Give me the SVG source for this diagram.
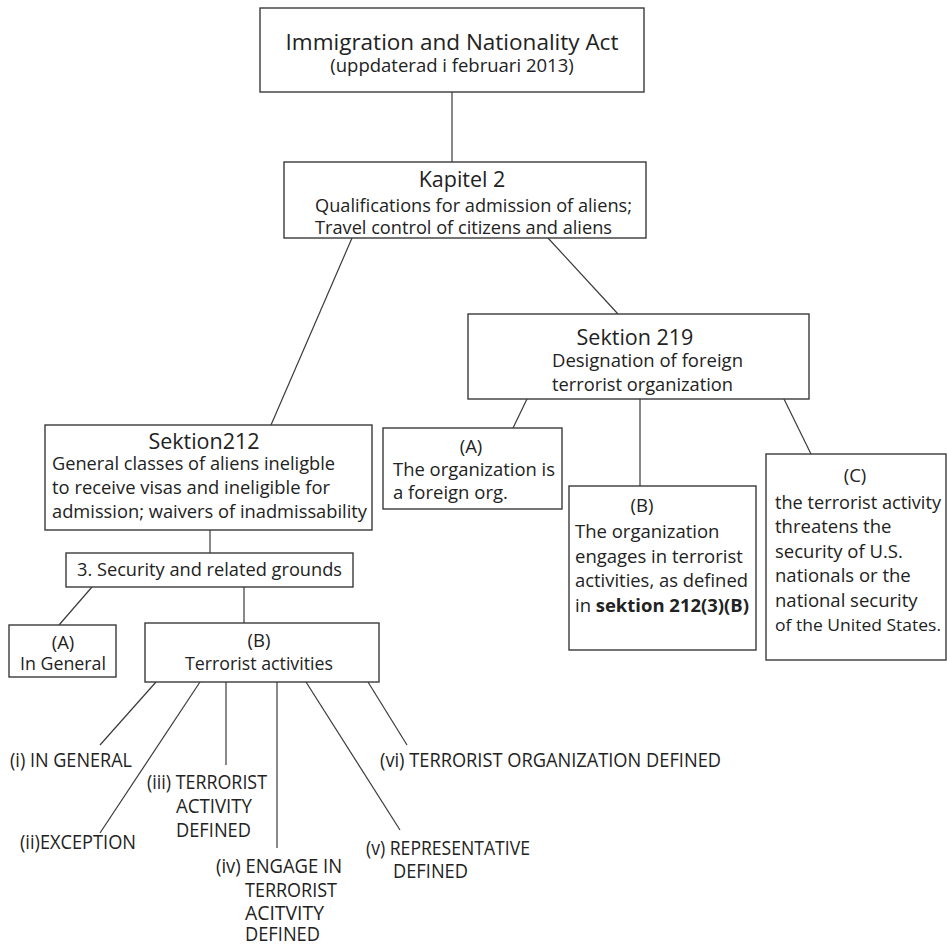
<svg xmlns="http://www.w3.org/2000/svg" width="947" height="947" viewBox="0 0 947 947">
<style>
.box{fill:#fff;stroke:#3a3a3a;stroke-width:1.4}
.ln{stroke:#3a3a3a;stroke-width:1.2;fill:none}
text{font-family:"Open Sans","Liberation Sans",sans-serif;fill:#222}
.t{font-size:18.5px}
.h{font-size:21.5px}
.c{text-anchor:middle}
.s{font-size:19.5px}
</style>
<rect width="947" height="947" fill="#fff"/>
<g id="connectors">
<line class="ln" x1="452" y1="92" x2="452" y2="162"/>
<line class="ln" x1="352" y1="238" x2="271" y2="425"/>
<line class="ln" x1="548" y1="238" x2="618" y2="314"/>
<line class="ln" x1="527" y1="399" x2="513" y2="428"/>
<line class="ln" x1="640" y1="399" x2="640" y2="486"/>
<line class="ln" x1="784" y1="399" x2="811" y2="454"/>
<line class="ln" x1="210" y1="530" x2="210" y2="553"/>
<line class="ln" x1="92" y1="587" x2="59" y2="625"/>
<line class="ln" x1="244" y1="587" x2="244" y2="623"/>
<line class="ln" x1="156" y1="682" x2="100" y2="745"/>
<line class="ln" x1="200" y1="682" x2="100" y2="833"/>
<line class="ln" x1="226" y1="682" x2="226" y2="765"/>
<line class="ln" x1="277" y1="682" x2="277" y2="848"/>
<line class="ln" x1="306" y1="682" x2="400" y2="830"/>
<line class="ln" x1="368" y1="682" x2="407" y2="745"/>
</g>
<g id="act">
<rect class="box" x="260" y="8" width="384" height="84"/>
<text class="c" x="452" y="50" font-size="22.5">Immigration and Nationality Act</text>
<text class="t c" x="452" y="72">(uppdaterad i februari 2013)</text>
</g>
<g id="kapitel2">
<rect class="box" x="284" y="162" width="362" height="76"/>
<text class="h c" x="462" y="187">Kapitel 2</text>
<text class="t" x="315" y="212" textLength="317" lengthAdjust="spacingAndGlyphs">Qualifications for admission of aliens;</text>
<text class="t" x="315" y="234" textLength="297" lengthAdjust="spacingAndGlyphs">Travel control of citizens and aliens</text>
</g>
<g id="sektion219">
<rect class="box" x="468" y="314" width="341" height="85"/>
<text class="h c" x="635" y="345">Sektion 219</text>
<text class="t" x="552" y="367" textLength="191" lengthAdjust="spacingAndGlyphs">Designation of foreign</text>
<text class="t" x="552" y="391" textLength="181" lengthAdjust="spacingAndGlyphs">terrorist organization</text>
</g>
<g id="s219a">
<rect class="box" x="383" y="428" width="179" height="81"/>
<text class="t c" x="471" y="453">(A)</text>
<text class="t" x="393" y="476" textLength="162" lengthAdjust="spacingAndGlyphs">The organization is</text>
<text class="t" x="393" y="499">a foreign org.</text>
</g>
<g id="s219b">
<rect class="box" x="569" y="486" width="187" height="164"/>
<text class="t c" x="642" y="512">(B)</text>
<text class="t" x="575" y="538">The organization</text>
<text class="t" x="575" y="563">engages in terrorist</text>
<text class="t" x="575" y="587" textLength="173" lengthAdjust="spacingAndGlyphs">activities, as defined</text>
<text class="t" x="575" y="612" textLength="174" lengthAdjust="spacingAndGlyphs">in <tspan font-weight="bold">sektion 212(3)(B)</tspan></text>
</g>
<g id="s219c">
<rect class="box" x="766" y="454" width="180" height="206"/>
<text class="t c" x="855" y="482">(C)</text>
<text class="t" x="775" y="509" textLength="166" lengthAdjust="spacingAndGlyphs">the terrorist activity</text>
<text class="t" x="775" y="533">threatens the</text>
<text class="t" x="775" y="558">security of U.S.</text>
<text class="t" x="775" y="582">nationals or the</text>
<text class="t" x="775" y="607">national security</text>
<text x="775" y="631" font-size="17" textLength="166" lengthAdjust="spacingAndGlyphs">of the United States.</text>
</g>
<g id="sektion212">
<rect class="box" x="45" y="425" width="327" height="105"/>
<text class="h c" x="204" y="449">Sektion212</text>
<text class="t" x="52" y="470" textLength="283" lengthAdjust="spacingAndGlyphs">General classes of aliens ineligble</text>
<text class="t" x="52" y="494" textLength="278" lengthAdjust="spacingAndGlyphs">to receive visas and ineligible for</text>
<text class="t" x="52" y="518" textLength="315" lengthAdjust="spacingAndGlyphs">admission; waivers of inadmissability</text>
</g>
<g id="security">
<rect class="box" x="66" y="553" width="287" height="34"/>
<text class="t" x="77" y="576" textLength="265" lengthAdjust="spacingAndGlyphs">3. Security and related grounds</text>
</g>
<g id="s212a">
<rect class="box" x="9" y="625" width="107" height="52"/>
<text class="t c" x="63" y="649">(A)</text>
<text class="t c" x="63" y="670" textLength="86" lengthAdjust="spacingAndGlyphs">In General</text>
</g>
<g id="s212b">
<rect class="box" x="145" y="623" width="234" height="59"/>
<text class="t c" x="259" y="647">(B)</text>
<text class="t c" x="259" y="670" textLength="148" lengthAdjust="spacingAndGlyphs">Terrorist activities</text>
</g>
<g id="labels">
<text class="s" x="10" y="767" textLength="122" lengthAdjust="spacingAndGlyphs">(i) IN GENERAL</text>
<text class="s" x="20" y="849" textLength="116" lengthAdjust="spacingAndGlyphs">(ii)EXCEPTION</text>
<text class="s" x="147" y="789" textLength="120" lengthAdjust="spacingAndGlyphs">(iii) TERRORIST</text>
<text class="s" x="176" y="813" textLength="76" lengthAdjust="spacingAndGlyphs">ACTIVITY</text>
<text class="s" x="176" y="837" textLength="75" lengthAdjust="spacingAndGlyphs">DEFINED</text>
<text class="s" x="216" y="873" textLength="126" lengthAdjust="spacingAndGlyphs">(iv) ENGAGE IN</text>
<text class="s" x="245" y="897" textLength="92" lengthAdjust="spacingAndGlyphs">TERRORIST</text>
<text class="s" x="245" y="920" textLength="79" lengthAdjust="spacingAndGlyphs">ACITVITY</text>
<text class="s" x="245" y="941" textLength="75" lengthAdjust="spacingAndGlyphs">DEFINED</text>
<text class="s" x="366" y="855" textLength="164" lengthAdjust="spacingAndGlyphs">(v) REPRESENTATIVE</text>
<text class="s" x="393" y="878" textLength="75" lengthAdjust="spacingAndGlyphs">DEFINED</text>
<text class="s" x="380" y="767" textLength="341" lengthAdjust="spacingAndGlyphs">(vi) TERRORIST ORGANIZATION DEFINED</text>
</g>
</svg>
